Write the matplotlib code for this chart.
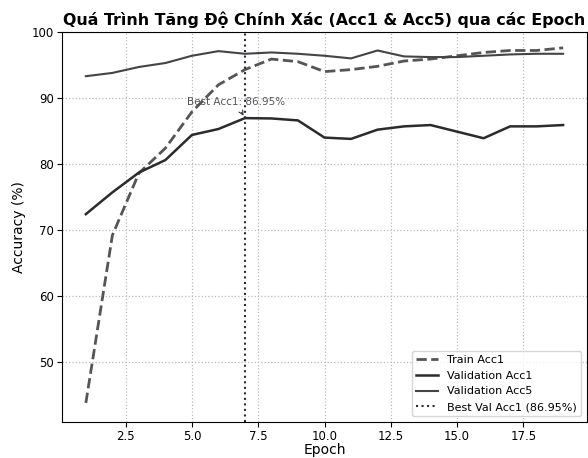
import numpy as np
import matplotlib
matplotlib.use("Agg")
import matplotlib.pyplot as plt

epochs = np.arange(1, 20)
train_acc1 = [43.8, 69.2, 78.6, 82.4, 87.9, 92.0, 94.3, 95.9, 95.5, 94.0,
              94.3, 94.8, 95.6, 95.9, 96.4, 96.9, 97.2, 97.2, 97.6]
val_acc1 = [72.4, 75.7, 78.7, 80.6, 84.4, 85.3, 86.95, 86.9, 86.6, 84.0,
            83.8, 85.2, 85.7, 85.9, 84.9, 83.9, 85.7, 85.7, 85.9]
val_acc5 = [93.3, 93.8, 94.7, 95.3, 96.4, 97.1, 96.7, 96.9, 96.7, 96.4,
            96.0, 97.2, 96.3, 96.2, 96.2, 96.4, 96.6, 96.7, 96.7]
best_epoch = 7
best_acc = 86.95

fig = plt.figure(figsize=(5.88, 4.58), dpi=100)
ax = fig.add_axes([62/588, 1-422/458, 525/588, 390/458])

ax.plot(epochs, train_acc1, '--', color='#555555', lw=2, label='Train Acc1')
ax.plot(epochs, val_acc1, '-', color='#2b2b2b', lw=1.8, label='Validation Acc1')
ax.plot(epochs, val_acc5, '-', color='#444444', lw=1.5, label='Validation Acc5')
ax.axvline(best_epoch, color='#2a2a40', ls=':', lw=1.5,
           label='Best Val Acc1 (%.2f%%)' % best_acc)

ax.annotate('Best Acc1: %.2f%%' % best_acc, xy=(best_epoch, best_acc),
            xytext=(4.8, 88.9), fontsize=7.5, color='#555555',
            arrowprops=dict(arrowstyle='->', color='#333333', lw=0.8))

ax.set_xlim(0.1, 19.9)
ax.set_ylim(40.9, 100)
ax.set_xticks([2.5, 5.0, 7.5, 10.0, 12.5, 15.0, 17.5])
ax.set_yticks([50, 60, 70, 80, 90, 100])
ax.tick_params(labelsize=8.5, pad=2.5)
ax.grid(True, ls=':', color='#bbbbbb', lw=0.9)

ax.set_title('Quá Trình Tăng Độ Chính Xác (Acc1 & Acc5) qua các Epoch',
             fontsize=11.4, fontweight='bold', pad=5)
ax.set_xlabel('Epoch', fontsize=10, labelpad=0)
ax.set_ylabel('Accuracy (%)', fontsize=10)
ax.legend(loc='lower right', fontsize=8)

fig.savefig('out.png', dpi=100)
